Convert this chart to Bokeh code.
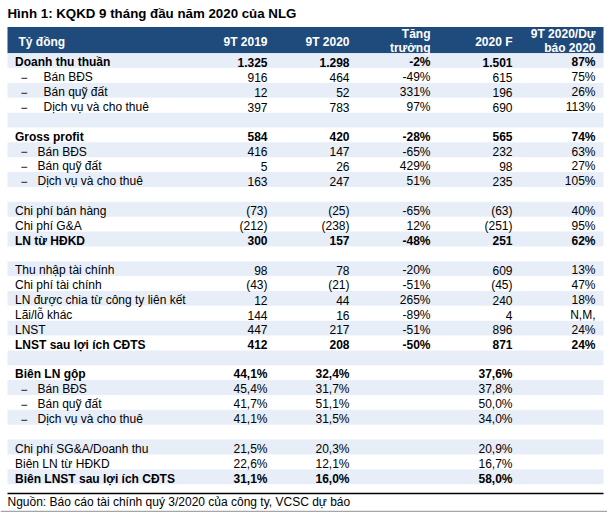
from bokeh.plotting import figure
from bokeh.models import ColumnDataSource, Range1d
from bokeh.core.properties import value
from bokeh.embed import file_html
from bokeh.resources import INLINE

# ---------------- data ----------------
title = "Hình 1: KQKD 9 tháng đầu năm 2020 của NLG"
source_note = "Nguồn: Báo cáo tài chính quý 3/2020 của công ty, VCSC dự báo"
header_unit = "Tỷ đồng"
headers = [["9T 2019"], ["9T 2020"], ["Tăng", "trưởng"], ["2020 F"], ["9T 2020/Dự", "báo 2020"]]

labels = ["Doanh thu thuần", "Bán BĐS", "Bán quỹ đất", "Dịch vụ và cho thuê", "",
          "Gross profit", "Bán BĐS", "Bán quỹ đất", "Dịch vụ và cho thuê", "",
          "Chi phí bán hàng", "Chi phí G&A", "LN từ HĐKD", "",
          "Thu nhập tài chính", "Chi phí tài chính", "LN được chia từ công ty liên kết",
          "Lãi/lỗ khác", "LNST", "LNST sau lợi ích CĐTS", "",
          "Biên LN gộp", "Bán BĐS", "Bán quỹ đất", "Dịch vụ và cho thuê", "",
          "Chi phí SG&A/Doanh thu", "Biên LN từ HĐKD", "Biên LNST sau lợi ích CĐTS"]
v2019 = ["1.325", "916", "12", "397", "",
         "584", "416", "5", "163", "",
         "(73)", "(212)", "300", "",
         "98", "(43)", "12", "144", "447", "412", "",
         "44,1%", "45,4%", "41,7%", "41,1%", "",
         "21,5%", "22,6%", "31,1%"]
v2020 = ["1.298", "464", "52", "783", "",
         "420", "147", "26", "247", "",
         "(25)", "(238)", "157", "",
         "78", "(21)", "44", "16", "217", "208", "",
         "32,4%", "31,7%", "51,1%", "31,5%", "",
         "20,3%", "12,1%", "16,0%"]
growth = ["-2%", "-49%", "331%", "97%", "",
          "-28%", "-65%", "429%", "51%", "",
          "-65%", "12%", "-48%", "",
          "-20%", "-51%", "265%", "-89%", "-51%", "-50%", "",
          "", "", "", "", "",
          "", "", ""]
f2020 = ["1.501", "615", "196", "690", "",
         "565", "232", "98", "235", "",
         "(63)", "(251)", "251", "",
         "609", "(45)", "240", "4", "896", "871", "",
         "37,6%", "37,8%", "50,0%", "34,0%", "",
         "20,9%", "16,7%", "58,0%"]
ratio = ["87%", "75%", "26%", "113%", "",
         "74%", "63%", "27%", "105%", "",
         "40%", "95%", "62%", "",
         "13%", "47%", "18%", "N,M,", "24%", "24%", "",
         "", "", "", "", "",
         "", "", ""]
bold_rows = [0, 5, 12, 19, 21, 28]
dash_rows = [1, 2, 3, 6, 7, 8, 22, 23, 24]

# ---------------- layout ----------------
FONT = value("Liberation Sans")
HEAD_BG = "#1F4A7C"
BAND = "#E8EEF7"
ROW0 = 52.7
RH = 14.86
LEFT, RIGHT = 7, 603
col_right = [267, 349, 430, 512, 595]

p = figure(width=607, height=512, x_range=Range1d(0, 607), y_range=Range1d(512, 0),
           output_backend="svg", toolbar_location=None,
           x_axis_location=None, y_axis_location=None, min_border=0)
p.grid.visible = False
p.outline_line_color = None
p.background_fill_color = "white"
p.border_fill_color = "white"

# header band
p.quad(left=[LEFT], right=[RIGHT], top=[26.5], bottom=[ROW0], fill_color=HEAD_BG, line_color=None)

# alternating row bands
n = len(labels)
band_top = [ROW0 + i * RH for i in range(n) if i % 2 == 0]
band_bot = [t + RH for t in band_top]
p.quad(left=LEFT, right=RIGHT, top=band_top, bottom=band_bot, fill_color=BAND, line_color=None)

# title
p.text(x=[7], y=[12.7], text=[title], text_font=FONT, text_font_size="13.3px",
       text_font_style="bold", text_align="left", text_baseline="middle", text_color="black")

# header texts
hx, hy, ht, ha = [18], [41], [header_unit], ["left"]
for cx, h in zip(col_right, headers):
    if len(h) == 1:
        hx.append(cx); hy.append(41); ht.append(h[0]); ha.append("right")
    else:
        hx += [cx, cx]; hy += [33.5, 47]; ht += h; ha += ["right", "right"]
p.text(x="x", y="y", text="t", text_align="a", source=ColumnDataSource(dict(x=hx, y=hy, t=ht, a=ha)),
       text_font=FONT, text_font_size="12px", text_font_style="bold",
       text_baseline="middle", text_color="white")

# body texts
xs, ys, ts, al, st = [], [], [], [], []
cols = [v2019, v2020, growth, f2020, ratio]
for i, lab in enumerate(labels):
    yc = ROW0 + 1.8 + (i + 0.5) * RH
    style = "bold" if i in bold_rows else "normal"
    if lab:
        if i in dash_rows:
            xs.append(20); ys.append(yc); ts.append("−"); al.append("left"); st.append("normal")
            lx = 43 if i < 5 else 37
        else:
            lx = 14.5
        xs.append(lx); ys.append(yc); ts.append(lab); al.append("left"); st.append(style)
    for cx, col in zip(col_right, cols):
        if col[i]:
            xs.append(cx); ys.append(yc); ts.append(col[i]); al.append("right"); st.append(style)

p.text(x="x", y="y", text="t", text_align="a", text_font_style="s",
       source=ColumnDataSource(dict(x=xs, y=ys, t=ts, a=al, s=st)),
       text_font=FONT, text_font_size="12px", text_baseline="middle", text_color="black")

# bottom rule, source, grey line
p.line(x=[LEFT, RIGHT], y=[493, 493], line_color="black", line_width=1.3)
p.text(x=[7], y=[501], text=[source_note], text_font=FONT, text_font_size="12px",
       text_align="left", text_baseline="middle", text_color="black")
p.line(x=[0, 607], y=[511.3, 511.3], line_color="#A6A6A6", line_width=2)

open("out.html", "w").write(file_html(p, INLINE))
